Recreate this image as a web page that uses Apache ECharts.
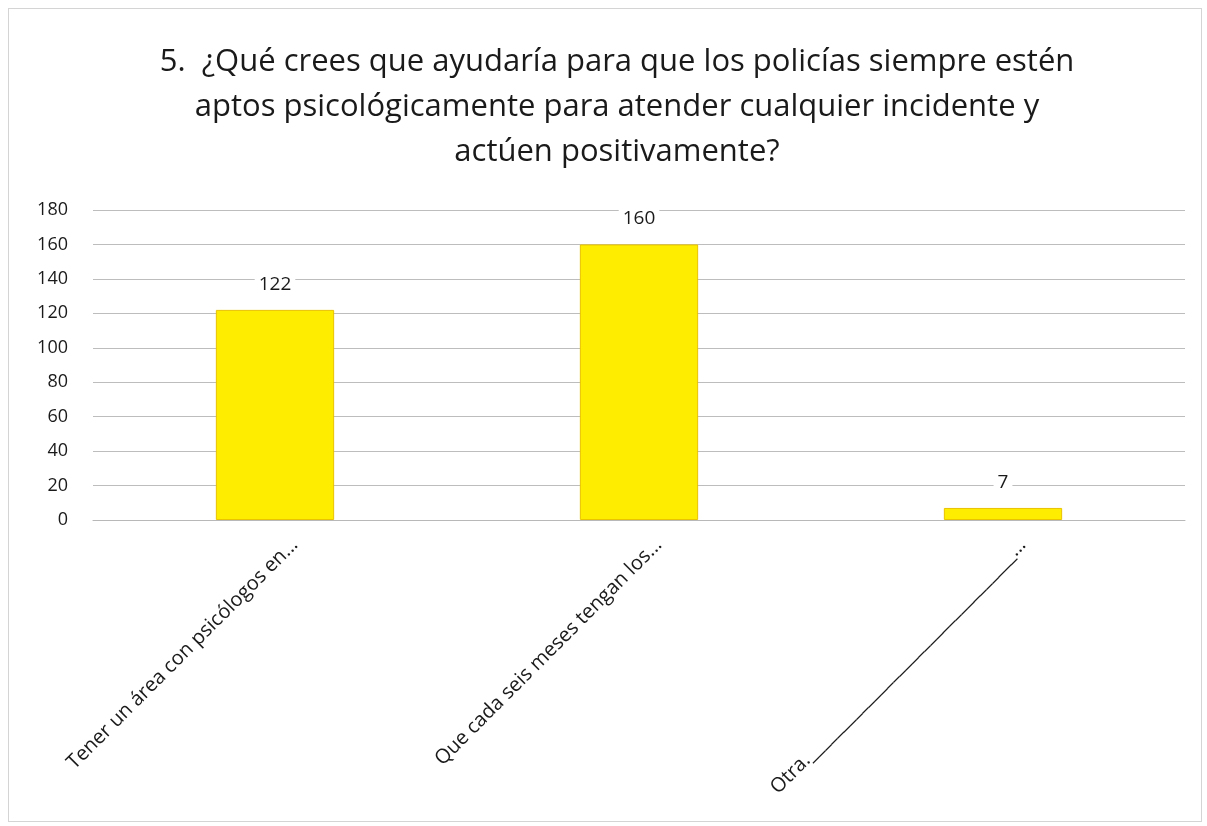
<!DOCTYPE html>
<html>
<head>
<meta charset="utf-8">
<script src="https://cdn.jsdelivr.net/npm/echarts@6/dist/echarts.min.js"></script>
<style>
  html, body { margin: 0; padding: 0; background: #fff; }
  #chart { position: absolute; left: 8px; top: 8px; width: 1192px; height: 812px; border: 1px solid #d4d4d4; }
</style>
</head>
<body>
<div id="chart"></div>
<script>
// datos de la pregunta 5
var titleLines = [
  '5.  ¿Qué crees que ayudaría para que los policías siempre estén',
  'aptos psicológicamente para atender cualquier incidente y',
  'actúen positivamente?'
];
var categories = [
  'Tener un área con psicólogos en...',
  'Que cada seis meses tengan los...',
  'Otra._________________________________...'
];
var values = [122, 160, 7];
var yTicks = [0, 20, 40, 60, 80, 100, 120, 140, 160, 180];

var chart = echarts.init(document.getElementById('chart'));
var option = {
  backgroundColor: '#fff',
  animation: false,
  textStyle: { fontFamily: 'Open Sans' },
  title: {
    text: titleLines.join('\n'),
    left: 603,
    textAlign: 'center',
    top: 26,
    textStyle: {
      fontFamily: 'Open Sans',
      fontSize: 31,
      fontWeight: 'normal',
      color: '#1a1a1a',
      lineHeight: 45,
      align: 'center'
    }
  },
  grid: {
    left: 84,
    right: 16,
    top: 201,
    bottom: 301
  },
  xAxis: {
    type: 'category',
    data: categories,
    axisTick: { show: false },
    axisLine: { show: true, lineStyle: { color: '#b8b8b8' } },
    axisLabel: {
      rotate: 45,
      fontSize: 20,
      color: '#1a1a1a',
      margin: 2,
      interval: 0,
      verticalAlign: 'top',
      lineHeight: 24,
      padding: [16, 0, 0, 0]
    }
  },
  yAxis: {
    type: 'value',
    min: yTicks[0],
    max: yTicks[yTicks.length - 1],
    interval: 20,
    axisLine: { show: false },
    axisTick: { show: false },
    splitLine: { lineStyle: { color: '#bdbdbd', width: 1 } },
    axisLabel: {
      fontSize: 18,
      color: '#1a1a1a',
      margin: 25
    }
  },
  series: [{
    type: 'bar',
    data: values,
    barWidth: '32.5%',
    itemStyle: {
      color: '#FFED00',
      borderColor: '#E9C200',
      borderWidth: 1
    },
    label: {
      show: true,
      position: 'top',
      distance: 16,
      fontSize: 19,
      color: '#1a1a1a',
      backgroundColor: '#fff',
      padding: [0, 4]
    }
  }]
};
chart.setOption(option);
</script>
</body>
</html>
